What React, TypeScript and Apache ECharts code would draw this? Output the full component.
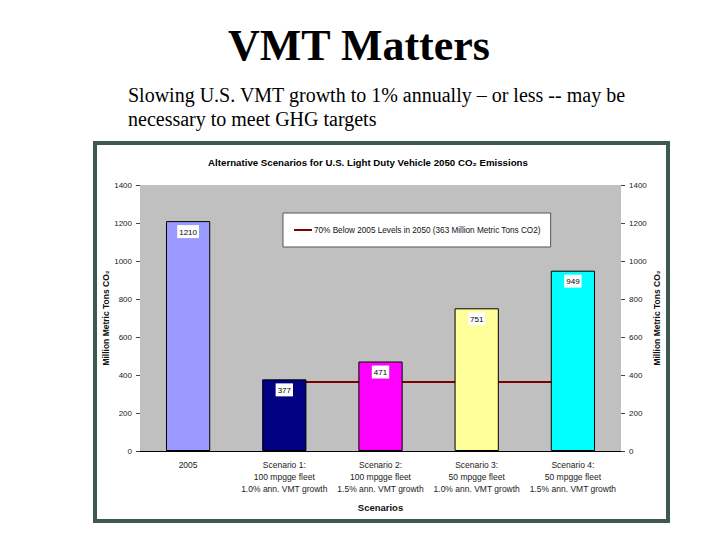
import React, { useEffect, useRef } from "react";
import * as echarts from "echarts";

const categories = [
  "2005",
  "Scenario 1:\n100 mpgge fleet\n1.0% ann. VMT growth",
  "Scenario 2:\n100 mpgge fleet\n1.5% ann. VMT growth",
  "Scenario 3:\n50 mpgge fleet\n1.0% ann. VMT growth",
  "Scenario 4:\n50 mpgge fleet\n1.5% ann. VMT growth",
];
const emissions = [1210, 377, 471, 751, 949];
const barColors = ["#9999ff", "#000080", "#ff00ff", "#ffff99", "#00ffff"];
const targetValue = 363;
const targetLine = [null, targetValue, targetValue, targetValue, targetValue];
const legendName = "70% Below 2005 Levels in 2050 (363 Million Metric Tons CO2)";

export default function App() {
  const ref = useRef<HTMLDivElement>(null);
  useEffect(() => {
    if (!ref.current) return;
    const chart = echarts.init(ref.current, null, { renderer: "svg" });
    const axisFont = {
      fontFamily: "Liberation Sans, Arial, sans-serif",
      fontSize: 8,
      color: "#222",
      formatter: (v: number) => String(v),
    };
    const yAxisBase = {
      type: "value",
      min: 0,
      max: 1400,
      interval: 200,
      splitLine: { show: false },
      axisLine: { show: false },
      axisTick: { show: true, length: 4, lineStyle: { color: "#444" } },
      nameLocation: "middle",
      nameMoveOverlap: false,
      name: "Million Metric Tons CO₂",
      nameTextStyle: { fontFamily: "Liberation Sans, Arial, sans-serif", fontSize: 8.5, fontWeight: "bold", color: "#111" },
    };
    chart.setOption({
      animation: false,
      backgroundColor: "#ffffff",
      title: {
        text: "Alternative Scenarios for U.S. Light Duty Vehicle 2050 CO₂ Emissions",
        left: 363,
        top: 152,
        textAlign: "center",
        textStyle: { fontFamily: "Liberation Sans, Arial, sans-serif", fontSize: 9.7, fontWeight: "bold", color: "#000" },
      },
      graphic: [
        {
          type: "rect",
          shape: { x: 95, y: 143, width: 573, height: 378 },
          style: { fill: "none", stroke: "#3e5a4e", lineWidth: 4 },
          z: 100,
        },
        {
          type: "text",
          x: 359,
          y: 45,
          style: {
            text: "VMT Matters",
            font: "bold 44px 'Liberation Serif', 'Times New Roman', serif",
            fill: "#000",
            align: "center",
            verticalAlign: "middle",
          },
        },
        {
          type: "text",
          x: 128,
          y: 83,
          style: {
            text: "Slowing U.S. VMT growth to 1% annually – or less -- may be\nnecessary to meet GHG targets",
            font: "20px 'Liberation Serif', 'Times New Roman', serif",
            lineHeight: 24,
            fill: "#000",
          },
        },
      ],
      grid: { left: 140, right: 99, top: 185, bottom: 89, backgroundColor: "#c0c0c0", show: true, borderWidth: 0 },
      legend: {
        show: true,
        data: [{ name: legendName, icon: "rect" }],
        left: 283,
        top: 213,
        padding: [13, 10, 13, 11],
        itemWidth: 18,
        itemHeight: 2,
        itemGap: 2,
        backgroundColor: "#ffffff",
        borderColor: "#555",
        borderWidth: 1,
        textStyle: { fontFamily: "Liberation Sans, Arial, sans-serif", fontSize: 8.2, color: "#111", padding: [0, 0, 0, -3] },
      },
      xAxis: {
        type: "category",
        data: categories,
        name: "Scenarios",
        nameLocation: "middle",
        nameGap: 51,
        nameTextStyle: { fontFamily: "Liberation Sans, Arial, sans-serif", fontSize: 9.5, fontWeight: "bold", color: "#111" },
        axisLine: { lineStyle: { color: "#000", width: 1 } },
        axisTick: { show: false },
        axisLabel: { fontFamily: "Liberation Sans, Arial, sans-serif", color: "#222", fontSize: 8.5, lineHeight: 12, margin: 8, interval: 0 },
      },
      yAxis: [
        { ...yAxisBase, position: "left", nameGap: 30, axisLabel: { ...axisFont, margin: 8 } },
        { ...yAxisBase, position: "right", nameGap: 31, nameRotate: 90, axisLabel: { ...axisFont, margin: 8 } },
      ],
      series: [
        {
          type: "bar",
          barWidth: "46%",
          data: emissions.map((v, i) => ({
            value: v,
            itemStyle: { color: barColors[i], borderColor: "#000", borderWidth: 1 },
          })),
          label: {
            show: true,
            position: "insideTop",
            distance: 4,
            backgroundColor: "#fff",
            padding: [3, 2, 2, 2],
            fontFamily: "Liberation Sans, Arial, sans-serif",
            fontSize: 8,
            color: "#000",
          },
          z: 2,
        },
        {
          type: "line",
          name: legendName,
          data: targetLine,
          showSymbol: false,
          symbol: "none",
          lineStyle: { color: "#800000", width: 2 },
          itemStyle: { color: "#800000" },
          z: 1,
        },
      ],
    });
    return () => chart.dispose();
  }, []);
  return <div ref={ref} style={{ position: "fixed", left: 0, top: 0, width: 720, height: 540 }} />;
}
